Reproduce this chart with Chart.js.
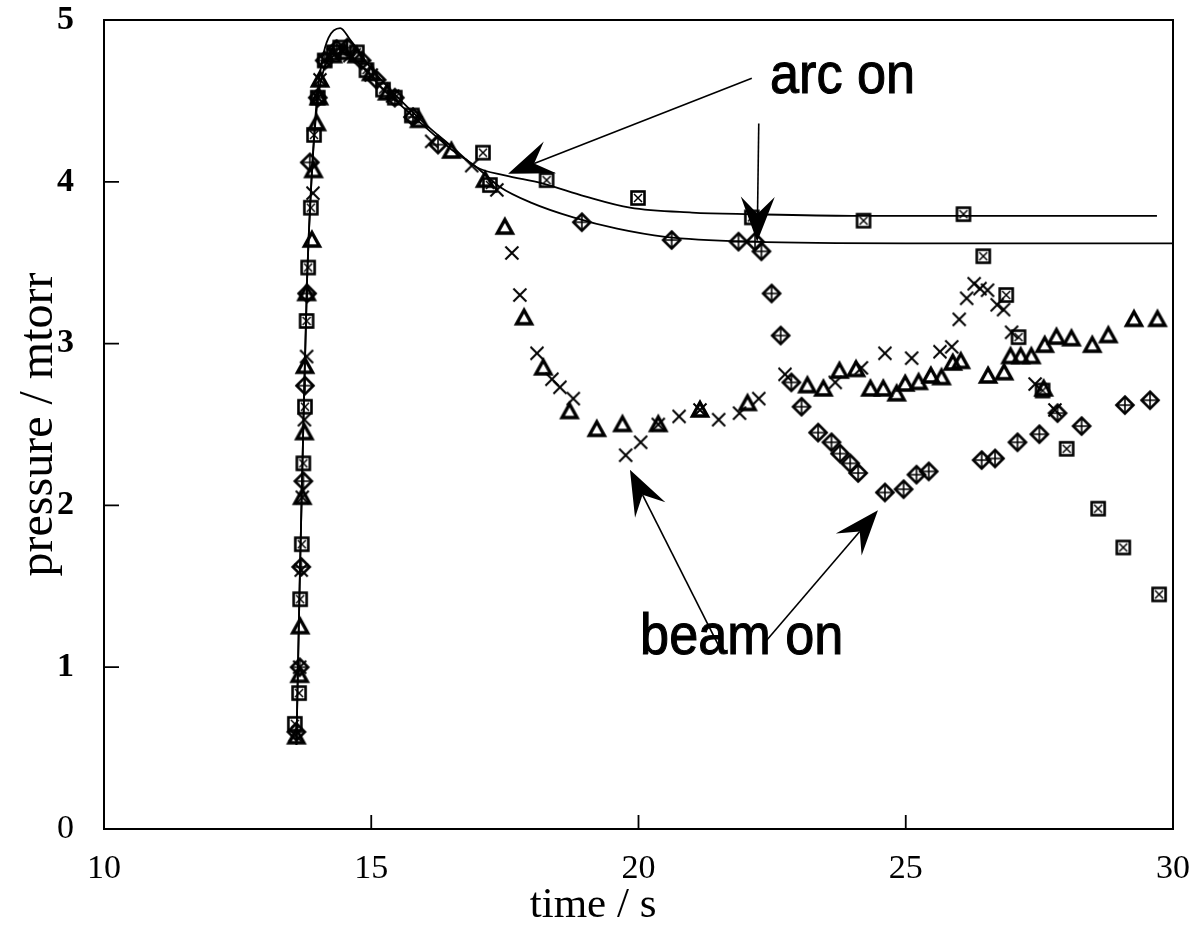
<!DOCTYPE html>
<html><head><meta charset="utf-8">
<script src="https://cdn.jsdelivr.net/npm/chart.js@4"></script>
<style>html,body{margin:0;padding:0;background:#fff;}canvas{display:block;}</style>
</head><body>
<canvas id="c" width="1202" height="927"></canvas>
<script>
// ---------- data ----------
const xTickValues = [10, 15, 20, 25, 30];
const yTickValues = [0, 1, 2, 3, 4, 5];
const xTitle = 'time / s';
const yTitle = 'pressure / mtorr';

// squares with X
const squarePts = [[13.57,0.65],[13.65,0.84],[13.67,1.42],[13.70,1.76],[13.73,2.26],[13.76,2.61],[13.79,3.14],[13.82,3.47],[13.87,3.84],[13.93,4.29],[14.0,4.52],[14.13,4.75],[14.3,4.80],[14.42,4.83],[14.73,4.80],[14.91,4.69],[15.22,4.57],[15.44,4.52],[15.76,4.41],[17.09,4.18],[17.22,3.98],[18.28,4.01],[19.99,3.90],[22.12,3.78],[24.21,3.76],[26.08,3.80],[26.45,3.54],[26.88,3.30],[27.11,3.04],[27.56,2.71],[28.01,2.35],[28.6,1.98],[29.07,1.74],[29.74,1.45]];
// diamonds with +
const diamondPts = [[13.6,0.60],[13.66,1.00],[13.69,1.62],[13.73,2.15],[13.76,2.74],[13.80,3.31],[13.85,4.12],[14.0,4.52],[14.13,4.75],[14.35,4.82],[14.55,4.83],[14.82,4.75],[15.1,4.63],[15.44,4.52],[15.78,4.40],[16.25,4.23],[18.94,3.75],[20.62,3.64],[21.87,3.63],[22.18,3.63],[22.3,3.57],[22.49,3.31],[22.66,3.05],[22.86,2.76],[23.05,2.61],[23.36,2.45],[23.61,2.39],[23.77,2.32],[23.96,2.26],[24.11,2.20],[24.61,2.08],[24.96,2.10],[25.2,2.19],[25.43,2.21],[26.42,2.28],[26.67,2.29],[27.09,2.39],[27.5,2.44],[27.84,2.57],[28.29,2.49],[29.1,2.62],[29.57,2.65]];
// triangles
const trianglePts = [[13.6,0.57],[13.66,0.95],[13.67,1.25],[13.71,2.05],[13.75,2.45],[13.76,2.86],[13.79,3.31],[13.89,3.64],[13.92,4.07],[13.98,4.36],[14.02,4.52],[14.04,4.63],[14.28,4.78],[14.5,4.80],[14.73,4.78],[15.0,4.67],[15.3,4.55],[15.9,4.38],[16.5,4.19],[17.13,4.01],[17.5,3.72],[17.86,3.16],[18.22,2.85],[18.71,2.58],[19.22,2.47],[19.7,2.50],[20.37,2.50],[21.15,2.59],[22.04,2.63],[23.16,2.74],[23.46,2.72],[23.76,2.83],[24.07,2.84],[24.34,2.72],[24.58,2.72],[24.83,2.69],[24.99,2.75],[25.24,2.76],[25.47,2.80],[25.67,2.79],[25.88,2.88],[26.03,2.89],[26.54,2.80],[26.84,2.82],[26.96,2.92],[27.15,2.92],[27.35,2.92],[27.58,2.72],[27.6,2.99],[27.82,3.04],[28.1,3.03],[28.49,2.99],[28.79,3.05],[29.27,3.15],[29.71,3.15]];
// crosses
const crossPts = [[13.58,0.58],[13.66,1.00],[13.69,1.60],[13.71,2.05],[13.75,2.53],[13.79,2.92],[13.91,3.93],[14.0,4.52],[14.04,4.63],[14.13,4.75],[14.6,4.78],[15.0,4.66],[15.4,4.53],[16.13,4.25],[16.88,4.10],[17.35,3.95],[17.63,3.56],[17.78,3.30],[18.1,2.94],[18.38,2.78],[18.53,2.73],[18.78,2.66],[19.76,2.31],[20.04,2.39],[20.37,2.50],[20.76,2.55],[21.15,2.59],[21.5,2.53],[21.89,2.57],[22.25,2.66],[22.74,2.81],[23.68,2.76],[24.17,2.85],[24.61,2.94],[25.11,2.91],[25.64,2.95],[25.86,2.98],[26.0,3.15],[26.14,3.28],[26.28,3.37],[26.39,3.34],[26.53,3.33],[26.71,3.24],[26.83,3.21],[26.98,3.07],[27.42,2.75],[27.79,2.59]];
// fitted curves
const fitUpper = [[13.6,0.52],[13.66,1.5],[13.73,2.5],[13.8,3.4],[13.88,4.0],[13.98,4.5],[14.08,4.75],[14.2,4.89],[14.42,4.95],[14.6,4.88],[14.8,4.79],[15.0,4.70],[15.5,4.52],[16.0,4.36],[16.5,4.22],[16.97,4.09],[17.5,4.04],[18.2,3.99],[19.0,3.91],[19.84,3.84],[21.0,3.81],[22.1,3.80],[24.0,3.79],[26.0,3.79],[29.7,3.79]];
const fitLower = [[13.6,0.52],[13.66,1.5],[13.73,2.5],[13.8,3.4],[13.88,4.0],[13.98,4.45],[14.1,4.68],[14.3,4.78],[14.5,4.80],[14.8,4.72],[15.2,4.58],[15.8,4.40],[16.5,4.20],[16.97,4.09],[17.4,3.97],[18.0,3.87],[18.78,3.78],[19.6,3.71],[20.5,3.66],[22.14,3.63],[25.0,3.62],[30.0,3.62]];

// annotations (data units)
const labelTexts = ['arc on', 'beam on'];
const labelPos = [[22.46, 4.55], [20.03, 1.08]];
const arrowFrom = [[22.12, 4.64], [22.25, 4.36], [21.52, 1.12], [22.33, 1.14]];
const arrowTo = [[17.56, 4.05], [22.22, 3.63], [19.84, 2.22], [24.48, 1.97]];
const xTitleCenter = 19.15;

// ---------- markers ----------
function marker(type) {
  const c = document.createElement('canvas');
  c.width = 24; c.height = 24;
  const g = c.getContext('2d');
  g.strokeStyle = '#000'; g.lineCap = 'butt';
  const m = 12;
  if (type === 'square') {
    g.lineWidth = 2.6;
    g.strokeRect(m - 6.5, m - 6.5, 13, 13);
    g.lineWidth = 1.5;
    g.beginPath(); g.moveTo(m - 4, m - 4); g.lineTo(m + 4, m + 4); g.moveTo(m + 4, m - 4); g.lineTo(m - 4, m + 4); g.stroke();
  } else if (type === 'diamond') {
    g.lineWidth = 2.6;
    g.beginPath(); g.moveTo(m, m - 8.5); g.lineTo(m + 8.5, m); g.lineTo(m, m + 8.5); g.lineTo(m - 8.5, m); g.closePath(); g.stroke();
    g.lineWidth = 1.6;
    g.beginPath(); g.moveTo(m, m - 7.5); g.lineTo(m, m + 7.5); g.moveTo(m - 7.5, m); g.lineTo(m + 7.5, m); g.stroke();
  } else if (type === 'triangle') {
    g.lineWidth = 3.4;
    g.lineJoin = 'miter';
    g.beginPath(); g.moveTo(m, m - 7.5); g.lineTo(m + 7.5, m + 6); g.lineTo(m - 7.5, m + 6); g.closePath(); g.stroke();
  } else {
    g.lineWidth = 2;
    g.beginPath(); g.moveTo(m - 6.5, m - 6.5); g.lineTo(m + 6.5, m + 6.5); g.moveTo(m + 6.5, m - 6.5); g.lineTo(m - 6.5, m + 6.5); g.stroke();
  }
  return c;
}
const toXY = arr => arr.map(p => ({x: p[0], y: p[1]}));

const serif = '"Liberation Serif", "Times New Roman", serif';
const sans = '"Liberation Sans", Arial, Helvetica, sans-serif';

// ---------- plugin: frame, inward ticks, annotations ----------
const framePlugin = {
  id: 'frame',
  afterDraw(chart) {
    const {ctx, chartArea: a, scales: {x, y}} = chart;
    ctx.save();
    ctx.strokeStyle = '#000';
    ctx.lineWidth = 2;
    ctx.strokeRect(a.left, a.top, a.right - a.left, a.bottom - a.top);
    ctx.lineWidth = 1.8;
    ctx.beginPath();
    yTickValues.forEach(v => { const py = y.getPixelForValue(v); ctx.moveTo(a.left, py); ctx.lineTo(a.left + 15, py); });
    xTickValues.forEach(v => { const px = x.getPixelForValue(v); ctx.moveTo(px, a.bottom); ctx.lineTo(px, a.bottom - 14); });
    ctx.stroke();
    // arrows
    ctx.fillStyle = '#000';
    for (let i = 0; i < arrowFrom.length; i++) {
      const x1 = x.getPixelForValue(arrowFrom[i][0]), y1 = y.getPixelForValue(arrowFrom[i][1]);
      const x2 = x.getPixelForValue(arrowTo[i][0]), y2 = y.getPixelForValue(arrowTo[i][1]);
      const dx = x1 - x2, dy = y1 - y2, L = Math.hypot(dx, dy);
      const ux = dx / L, uy = dy / L, vx = -uy, vy = ux;
      const hl = 45, hw = 17, notch = 28;
      ctx.lineWidth = 1.6;
      ctx.beginPath(); ctx.moveTo(x1, y1); ctx.lineTo(x2 + ux * notch, y2 + uy * notch); ctx.stroke();
      ctx.beginPath();
      ctx.moveTo(x2, y2);
      ctx.lineTo(x2 + ux * hl + vx * hw, y2 + uy * hl + vy * hw);
      ctx.lineTo(x2 + ux * notch, y2 + uy * notch);
      ctx.lineTo(x2 + ux * hl - vx * hw, y2 + uy * hl - vy * hw);
      ctx.closePath(); ctx.fill();
    }
    // annotation labels (slightly condensed, heavy)
    ctx.textAlign = 'left'; ctx.textBaseline = 'alphabetic';
    ctx.font = '58px ' + sans;
    ctx.lineWidth = 1.1;
    labelTexts.forEach((t, i) => {
      const px = x.getPixelForValue(labelPos[i][0]), py = y.getPixelForValue(labelPos[i][1]);
      ctx.save();
      ctx.translate(px, py);
      ctx.scale(0.9, 1);
      ctx.fillText(t, 0, 0);
      ctx.strokeText(t, 0, 0);
      ctx.restore();
    });
    // x axis title
    ctx.font = '43px ' + serif;
    ctx.textAlign = 'center';
    ctx.fillText(xTitle, x.getPixelForValue(xTitleCenter), a.bottom + 88);
    ctx.restore();
  }
};

new Chart(document.getElementById('c'), {
  type: 'scatter',
  data: {
    datasets: [
      {data: toXY(fitUpper), showLine: true, borderColor: '#000', borderWidth: 1.8, pointRadius: 0, cubicInterpolationMode: 'monotone', fill: false},
      {data: toXY(fitLower), showLine: true, borderColor: '#000', borderWidth: 1.8, pointRadius: 0, cubicInterpolationMode: 'monotone', fill: false},
      {data: toXY(squarePts), pointStyle: marker('square'), pointRadius: 8},
      {data: toXY(diamondPts), pointStyle: marker('diamond'), pointRadius: 8},
      {data: toXY(trianglePts), pointStyle: marker('triangle'), pointRadius: 8},
      {data: toXY(crossPts), pointStyle: marker('cross'), pointRadius: 8}
    ]
  },
  options: {
    responsive: false, animation: false, devicePixelRatio: 1,
    layout: {padding: {top: 20, right: 29, left: 0, bottom: 0}},
    plugins: {legend: {display: false}, tooltip: {enabled: false}},
    scales: {
      x: {
        type: 'linear', min: 10, max: 30,
        afterBuildTicks: s => { s.ticks = xTickValues.map(v => ({value: v})); },
        afterFit: s => { s.height = 98; s.paddingLeft = 0; s.paddingRight = 0; },
        grid: {display: false, drawTicks: false}, border: {display: false},
        ticks: {font: {family: serif, size: 34}, color: '#000', padding: 20, maxRotation: 0},
        title: {display: false}
      },
      y: {
        type: 'linear', min: 0, max: 5,
        afterBuildTicks: s => { s.ticks = yTickValues.map(v => ({value: v})); },
        afterFit: s => { s.width = 104; s.paddingTop = 0; s.paddingBottom = 0; },
        grid: {display: false, drawTicks: false}, border: {display: false},
        ticks: {font: c => ({family: serif, size: 34, weight: c.tick && c.tick.value === 0 ? 'normal' : 'bold'}), color: '#000', padding: 30},
        title: {display: true, text: yTitle, font: {family: serif, size: 48}, color: '#000', padding: {top: 11, bottom: 0}}
      }
    }
  },
  plugins: [framePlugin]
});
</script>
</body></html>
